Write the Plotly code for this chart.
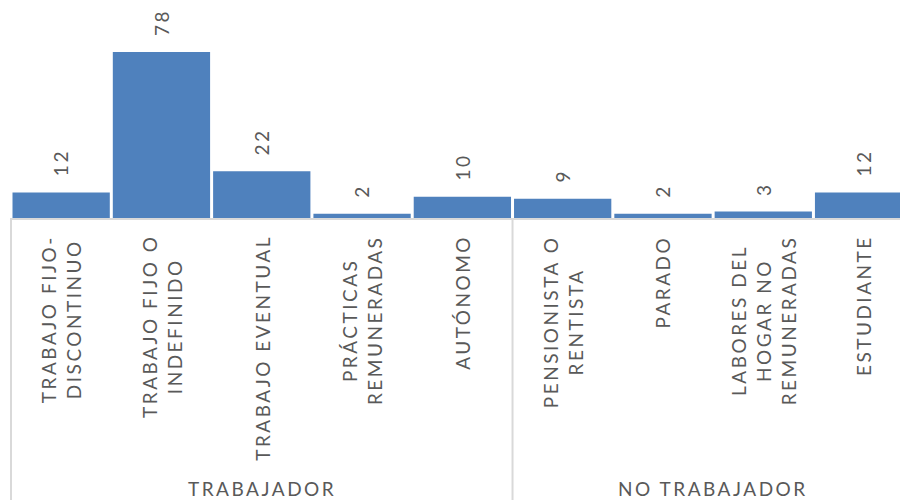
import plotly.graph_objects as go

categories = [
    "TRABAJO FIJO-\nDISCONTINUO",
    "TRABAJO FIJO O\nINDEFINIDO",
    "TRABAJO EVENTUAL",
    "PRÁCTICAS\nREMUNERADAS",
    "AUTÓNOMO",
    "PENSIONISTA O\nRENTISTA",
    "PARADO",
    "LABORES DEL\nHOGAR NO\nREMUNERADAS",
    "ESTUDIANTE",
]
groups = ["TRABAJADOR"] * 5 + ["NO TRABAJADOR"] * 4
values = [12, 78, 22, 2, 10, 9, 2, 3, 12]

BAR_COLOR = "#4F81BD"
TEXT_COLOR = "#595959"
AXIS_COLOR = "#D9D9D9"
FONT = "Lato"
FS = 19
LS = "2.5px"

keys = [c.replace("\n", " ") for c in categories]


def spaced(text):
    return "<br>".join(
        f'<span style="letter-spacing:{LS}">{line}</span>' for line in text.split("\n")
    )


fig = go.Figure(
    go.Bar(
        x=keys,
        y=values,
        marker=dict(color=BAR_COLOR, line=dict(width=0)),
        hoverinfo="x+y",
    )
)

annotations = []
# value labels
for k, v in zip(keys, values):
    annotations.append(
        dict(
            x=k, y=v, xref="x", yref="y", text=spaced(str(v)), showarrow=False,
            textangle=-90, yanchor="bottom", xanchor="center", yshift=14,
            font=dict(family=FONT, size=FS, color=TEXT_COLOR),
        )
    )
# category labels
for k, c in zip(keys, categories):
    annotations.append(
        dict(
            x=k, y=0, xref="x", yref="paper", text=spaced(c), showarrow=False,
            textangle=-90, yanchor="top", xanchor="center", align="center", yshift=-15,
            font=dict(family=FONT, size=FS, color=TEXT_COLOR),
        )
    )

# group labels and separators
shapes = [
    dict(type="line", xref="paper", yref="paper", x0=0, x1=0, y0=0, y1=-1.4,
         line=dict(color=AXIS_COLOR, width=2)),
]
start = 0
ordered = []
for g in groups:
    if g not in ordered:
        ordered.append(g)
for g in ordered:
    n = groups.count(g)
    annotations.append(
        dict(
            x=start + (n - 1) / 2, y=0, xref="x", yref="paper", text=spaced(g),
            showarrow=False, yanchor="middle", xanchor="center", yshift=-270,
            font=dict(family=FONT, size=FS, color=TEXT_COLOR),
        )
    )
    start += n
    if start < len(groups):
        shapes.append(
            dict(type="line", xref="x", yref="paper", x0=start - 0.5, x1=start - 0.5,
                 y0=0, y1=-1.4, line=dict(color=AXIS_COLOR, width=2))
        )

fig.update_layout(
    width=900,
    height=500,
    margin=dict(l=11, r=0, t=0, b=282),
    paper_bgcolor="white",
    plot_bgcolor="white",
    bargap=0.03,
    showlegend=False,
    annotations=annotations,
    shapes=shapes,
    xaxis=dict(
        type="category",
        range=[-0.5, 8.363],
        showticklabels=False,
        ticks="",
        showgrid=False,
        zeroline=False,
        showline=True,
        linecolor=AXIS_COLOR,
        linewidth=2,
        fixedrange=True,
    ),
    yaxis=dict(
        range=[0, 102.5],
        visible=False,
        showgrid=False,
        zeroline=False,
        fixedrange=True,
    ),
)

fig.write_html(
    "out.html",
    config={"displayModeBar": False},
    post_script="document.body.style.margin='0';document.body.style.overflow='hidden';",
)
